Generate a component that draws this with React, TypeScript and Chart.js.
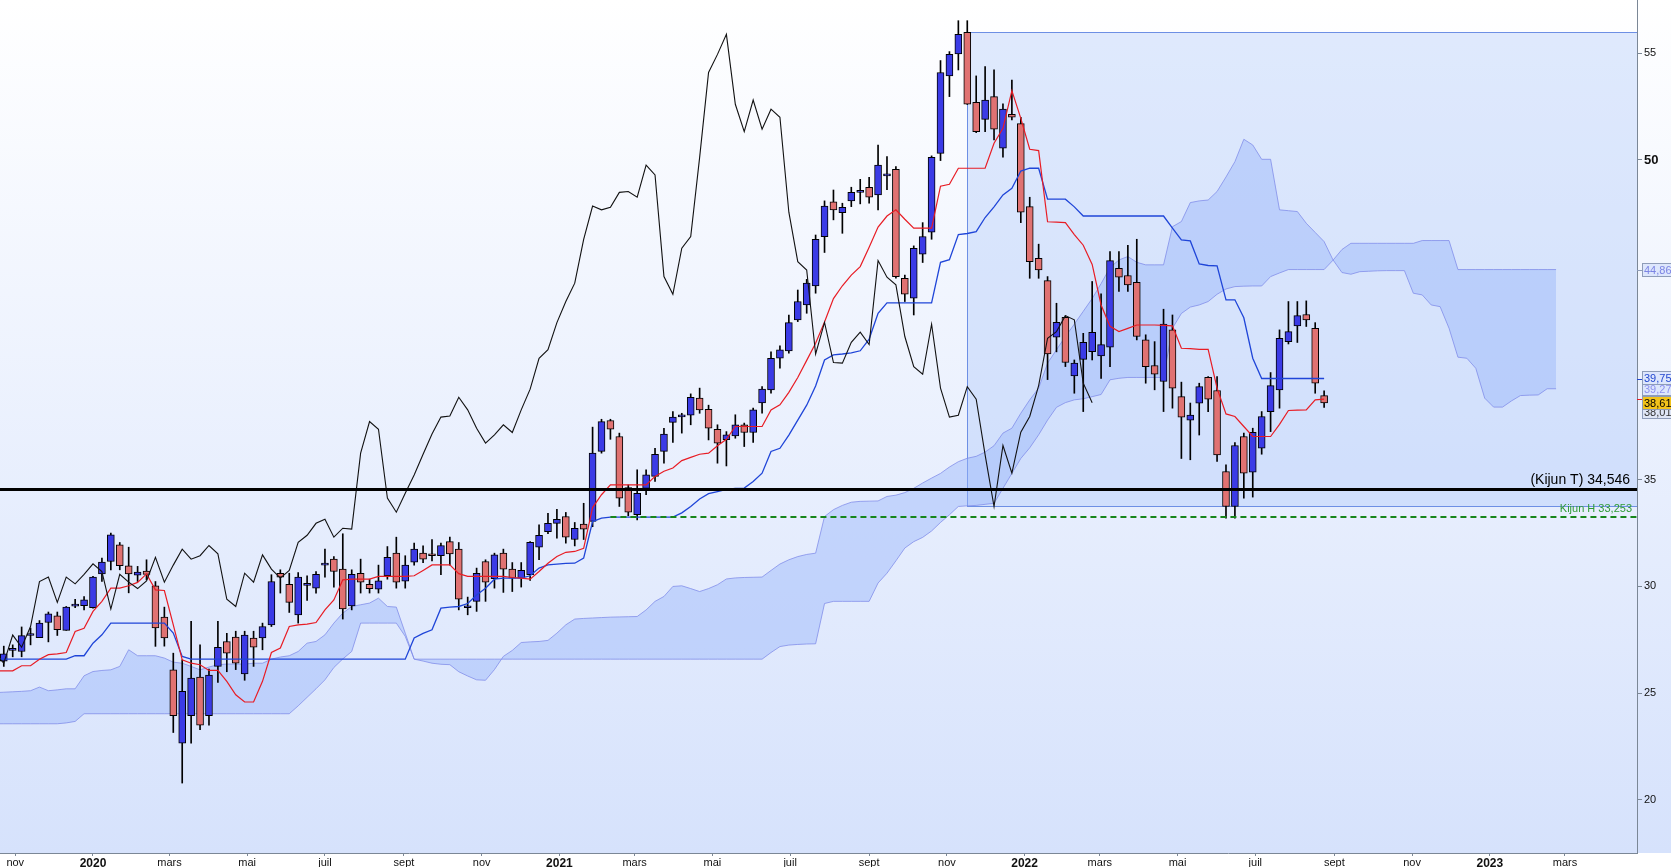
import React, { useEffect, useRef } from 'react';
import { Chart, registerables } from 'chart.js';

Chart.register(...registerables);

const W = 1671;
const H = 867;
const FONT = "'Liberation Sans', Arial, sans-serif";

// ---------- data ----------
const FIRST_WEEK = '2019-10-23';
const CHIKOU_SHIFT = 26;
const LINES_FIRST_INDEX = -1; // tenkan / kijun / cloud begin one week before the first candle

const opens = [
  26.5, 27.0, 26.95, 27.7, 27.6, 28.31, 28.62, 27.94, 29.08, 29.1,
  29.01, 30.59, 31.17, 31.95, 30.97, 30.53, 30.72, 30.03, 28.56, 26.09,
  22.65, 23.94, 25.75, 23.94, 26.25, 27.42, 27.62, 25.9, 27.58, 27.58,
  28.2, 30.62, 30.1, 28.67, 30.05, 29.92, 31.0, 31.28, 30.81, 29.09,
  30.62, 30.1, 29.87, 30.51, 31.56, 30.25, 31.14, 31.56, 31.53, 31.44,
  32.1, 31.75, 29.0, 29.3, 31.17, 30.36, 31.56, 30.81, 30.39, 30.55,
  31.84, 32.57, 32.96, 33.28, 32.2, 32.92, 33.05, 36.33, 37.78, 37.03,
  34.64, 33.36, 34.6, 35.16, 36.33, 37.69, 37.95, 38.03, 38.83, 38.31,
  37.37, 36.88, 37.06, 37.58, 37.22, 38.6, 39.22, 40.7, 41.05, 42.5,
  43.2, 44.09, 46.4, 48.03, 47.53, 48.08, 48.48, 48.72, 48.36, 49.25,
  49.56, 44.45, 43.52, 45.58, 46.61, 50.31, 53.94, 54.97, 55.98, 52.7,
  51.9, 52.97, 50.55, 52.14, 51.7, 47.81, 45.39, 44.34, 41.69, 42.62,
  39.87, 40.65, 41.01, 40.81, 41.22, 44.92, 44.58, 44.26, 41.56, 40.36,
  39.61, 42.03, 38.9, 37.8, 38.59, 39.81, 39.19, 35.39, 33.75, 37.03,
  35.36, 36.48, 38.2, 39.22, 41.48, 42.22, 42.75, 42.1, 38.95,
];
const highs = [
  27.2, 27.26, 28.1, 28.05, 28.4, 28.8, 28.8, 29.06, 29.4, 29.53,
  30.47, 31.33, 32.5, 32.06, 31.84, 30.94, 31.25, 30.23, 29.03, 26.87,
  26.56, 28.36, 27.26, 26.12, 28.36, 27.8, 27.9, 27.9, 27.9, 28.28,
  30.55, 30.78, 30.62, 30.65, 30.5, 30.7, 31.75, 31.4, 32.47, 30.78,
  31.28, 30.34, 31.0, 31.87, 32.31, 31.44, 32.03, 31.9, 32.2, 32.03,
  32.31, 32.06, 29.5, 30.86, 31.25, 31.56, 31.75, 31.12, 31.12, 32.1,
  32.89, 33.43, 33.62, 33.47, 33.0, 33.9, 37.47, 37.84, 37.84, 37.19,
  34.76, 35.47, 35.47, 36.48, 37.42, 38.2, 38.12, 39.03, 39.3, 38.5,
  37.58, 37.26, 38.05, 37.66, 38.36, 39.37, 41.0, 41.28, 42.73, 43.9,
  44.4, 46.48, 48.08, 48.59, 47.97, 48.72, 49.09, 49.19, 50.7, 50.16,
  49.69, 44.6, 45.97, 47.06, 50.19, 54.66, 55.08, 56.53, 56.53, 53.94,
  54.38, 54.22, 52.63, 53.75, 52.0, 48.25, 46.05, 44.53, 43.28, 42.69,
  40.62, 41.87, 44.3, 43.72, 45.7, 45.7, 46.0, 46.28, 41.8, 41.48,
  43.0, 42.73, 39.58, 38.6, 39.53, 39.84, 39.84, 35.7, 36.75, 37.19,
  37.42, 38.2, 40.03, 42.03, 43.36, 43.36, 43.39, 42.37, 39.17,
];
const lows = [
  26.25, 26.7, 26.7, 27.26, 27.6, 27.4, 27.7, 27.94, 29.0, 28.9,
  28.98, 30.23, 30.78, 30.78, 29.7, 30.23, 30.31, 27.19, 27.2, 23.15,
  20.78, 22.65, 23.28, 23.5, 25.5, 26.0, 26.1, 25.6, 26.25, 27.03,
  28.12, 29.69, 28.78, 28.28, 29.34, 29.69, 30.44, 29.97, 28.47, 28.9,
  29.69, 29.69, 29.69, 30.34, 29.92, 29.92, 31.0, 31.12, 31.2, 30.55,
  31.0, 28.9, 28.67, 28.83, 29.3, 29.92, 29.72, 29.76, 29.97, 30.28,
  31.25, 32.47, 32.26, 32.03, 31.9, 32.2, 32.8, 36.25, 36.9, 33.75,
  33.31, 33.12, 34.3, 34.92, 35.78, 36.75, 37.19, 37.58, 38.12, 36.87,
  35.78, 35.65, 36.95, 36.56, 36.75, 38.12, 39.06, 40.23, 40.94, 42.42,
  42.81, 43.75, 45.66, 47.19, 46.56, 47.81, 47.94, 47.97, 47.66, 48.6,
  44.45, 43.36, 42.73, 45.19, 46.28, 49.97, 52.97, 54.22, 52.6, 51.28,
  51.33, 50.94, 50.13, 51.88, 47.06, 44.45, 44.45, 39.7, 41.0, 40.31,
  39.06, 38.2, 40.62, 39.76, 40.31, 43.83, 43.83, 41.56, 39.53, 39.22,
  38.2, 38.36, 36.0, 35.94, 37.1, 38.2, 35.86, 33.2, 33.2, 34.14,
  34.19, 36.2, 37.26, 38.36, 41.37, 41.44, 42.19, 39.06, 38.39,
];
const closes = [
  26.84, 27.02, 27.69, 27.72, 28.28, 28.72, 27.97, 29.03, 29.12, 29.37,
  30.44, 31.14, 32.42, 30.97, 30.59, 30.67, 30.56, 28.05, 27.58, 23.94,
  25.08, 25.7, 23.5, 25.84, 27.15, 26.87, 26.4, 27.72, 27.15, 28.12,
  30.23, 30.44, 29.25, 30.44, 30.12, 30.57, 31.06, 30.7, 28.94, 30.57,
  30.2, 29.9, 30.26, 31.37, 30.2, 31.0, 31.75, 31.28, 31.44, 31.92,
  31.53, 29.4, 29.06, 30.62, 30.2, 31.48, 30.81, 30.39, 30.75, 32.07,
  32.4, 32.96, 33.15, 32.31, 32.73, 32.69, 36.25, 37.73, 37.37, 34.14,
  33.48, 34.37, 35.23, 36.2, 37.15, 37.94, 37.99, 38.87, 38.28, 37.42,
  36.72, 37.11, 37.58, 37.22, 38.28, 39.25, 40.7, 41.1, 42.37, 43.36,
  44.22, 46.28, 47.84, 47.66, 47.78, 48.48, 48.52, 48.25, 49.76, 49.3,
  44.53, 43.7, 45.86, 46.41, 50.12, 54.1, 54.95, 55.89, 52.61, 51.33,
  52.81, 51.44, 52.38, 52.0, 47.55, 45.23, 44.84, 40.9, 42.38, 40.5,
  40.47, 41.45, 41.92, 41.34, 45.28, 44.5, 44.14, 41.72, 40.31, 39.95,
  42.3, 39.3, 37.94, 38.03, 39.37, 38.78, 36.17, 33.75, 36.61, 35.31,
  37.23, 37.97, 39.42, 41.64, 41.95, 42.7, 42.5, 39.53, 38.61,
];
const tenkan = [
  26.04,
  26.04, 26.04, 26.28, 26.28, 26.59, 26.8, 26.84, 26.9, 27.89, 28.04,
  28.83, 29.3, 29.92, 29.92, 30.03, 30.19, 30.59, 29.84, 29.81, 28.2,
  26.56, 26.4, 26.33, 26.06, 26.06, 25.55, 24.92, 24.58, 24.58, 25.55,
  26.9, 27.11, 28.12, 28.2, 28.23, 28.31, 28.9, 29.37, 30.31, 30.34,
  30.34, 30.34, 30.47, 30.47, 30.47, 30.47, 30.5, 30.75, 31.01, 31.01,
  31.01, 30.6, 30.47, 30.47, 30.47, 30.47, 30.47, 30.42, 30.39, 30.34,
  30.7, 31.09, 31.4, 31.6, 31.64, 31.79, 33.7, 34.3, 34.76, 34.76,
  34.76, 34.76, 34.76, 35.16, 35.4, 35.55, 35.9, 36.05, 36.2, 36.25,
  36.6, 36.9, 37.5, 37.5, 37.5, 37.5, 38.28, 38.52, 39.1, 39.8,
  40.6, 41.4, 42.4, 43.5, 44.1, 44.6, 45.0, 45.9, 46.85, 47.37,
  47.66, 47.22, 46.8, 46.8, 46.8, 48.77, 48.86, 49.61, 49.61, 49.61,
  49.61, 50.78, 51.48, 53.25, 51.95, 50.5, 50.44, 47.1, 47.08, 47.06,
  46.5, 46.0, 45.1, 43.2, 42.2, 41.95, 42.1, 42.26, 42.26, 42.26,
  42.24, 42.22, 41.17, 41.15, 41.12, 41.12, 39.3, 38.09, 37.97, 37.5,
  37.03, 37.03, 37.03, 37.6, 38.25, 38.27, 38.28, 38.75, 38.78,
];
const kijun = [
  26.59,
  26.59, 26.59, 26.59, 26.59, 26.59, 26.59, 26.59, 26.59, 26.75, 26.75,
  27.34, 27.73, 28.28, 28.28, 28.28, 28.28, 28.28, 28.28, 28.28, 27.81,
  26.72, 26.59, 26.59, 26.59, 26.59, 26.59, 26.59, 26.59, 26.59, 26.59,
  26.59, 26.59, 26.59, 26.59, 26.59, 26.59, 26.59, 26.59, 26.59, 26.59,
  26.59, 26.59, 26.59, 26.59, 26.59, 26.59, 27.58, 27.8, 27.97, 28.98,
  29.03, 29.06, 29.2, 29.6, 29.92, 30.34, 30.39, 30.39, 30.39, 30.5,
  30.86, 31.01, 31.05, 31.08, 31.09, 31.33, 33.04, 33.2, 33.25, 33.25,
  33.25, 33.25, 33.25, 33.25, 33.25, 33.25, 33.45, 33.75, 34.1, 34.35,
  34.45, 34.55, 34.6, 34.61, 34.92, 35.31, 36.33, 36.48, 37.1, 37.8,
  38.5, 39.4, 40.62, 40.86, 40.9, 40.95, 41.05, 41.6, 42.81, 43.3,
  43.3, 43.3, 43.3, 43.3, 43.3, 45.2, 45.32, 46.5, 46.55, 46.64,
  47.3, 47.8, 48.36, 48.67, 49.48, 49.61, 49.61, 48.16, 48.16, 48.16,
  47.8, 47.37, 47.37, 47.37, 47.37, 47.37, 47.37, 47.37, 47.37, 47.37,
  47.37, 46.8, 46.25, 46.2, 45.12, 45.05, 45.03, 43.44, 43.44, 42.6,
  40.7, 39.75, 39.75, 39.75, 39.75, 39.75, 39.75, 39.75, 39.75,
];
const senkouA = [
  25.02,
  25.04, 25.06, 25.08, 25.11, 25.28, 25.11, 25.15, 25.2, 25.2, 25.81,
  26.01, 26.06, 26.09, 26.25, 27.03, 26.75, 26.75, 26.75, 26.64, 26.45,
  26.4, 26.25, 26.09, 26.22, 26.33, 26.36, 26.36, 26.36, 26.4, 26.4,
  26.59, 26.69, 26.75, 26.95, 27.34, 27.42, 27.73, 28.28, 28.75, 29.06,
  29.14, 29.22, 29.45, 29.06, 29.03, 27.81, 26.59, 26.5, 26.4, 26.35,
  26.33, 26.0, 25.8, 25.62, 25.6, 26.1, 26.72, 27.0, 27.37, 27.4,
  27.42, 27.47, 27.81, 28.2, 28.47, 28.5, 28.52, 28.54, 28.56, 28.57,
  28.58, 28.59, 28.9, 29.3, 29.53, 30.0, 30.03, 29.9, 29.76, 29.9,
  30.08, 30.35, 30.4, 30.42, 30.43, 30.44, 30.75, 31.05, 31.25, 31.4,
  31.5, 31.56, 33.28, 33.6, 33.8, 33.95, 33.99, 34.0, 34.01, 34.22,
  34.28, 34.4, 34.6, 34.85, 35.08, 35.3, 35.6, 35.85, 36.01, 36.1,
  36.3, 36.6, 37.19, 37.42, 38.12, 38.75, 39.3, 40.47, 41.1, 41.72,
  42.3, 42.9, 43.5, 44.2, 44.95, 45.31, 45.47, 45.2, 45.08, 45.08,
  45.08, 46.87, 47.11, 48.0, 48.08, 48.12, 48.52, 49.2, 49.92, 50.97,
  50.7, 50.03, 50.03, 47.66, 47.62, 47.58, 47.03, 46.6, 46.17, 45.31,
  44.72, 44.64, 44.76, 44.78, 44.8, 44.81, 44.81, 44.81, 43.75, 43.67,
  43.2, 43.12, 42.11, 40.75, 40.7, 40.23, 38.83, 38.41, 38.41, 38.7,
  38.95, 38.97, 38.98, 39.27, 39.27,
];
const senkouB = [
  23.56,
  23.56, 23.56, 23.56, 23.56, 23.56, 23.56, 23.56, 23.6, 23.67, 24.03,
  24.03, 24.03, 24.03, 24.03, 24.03, 24.03, 24.03, 24.03, 24.03, 24.03,
  24.03, 24.03, 24.03, 24.03, 24.03, 24.03, 24.03, 24.03, 24.03, 24.03,
  24.03, 24.03, 24.03, 24.4, 24.8, 25.2, 25.62, 26.2, 26.6, 26.95,
  28.28, 28.28, 28.28, 28.28, 28.28, 27.66, 26.59, 26.59, 26.59, 26.59,
  26.59, 26.59, 26.59, 26.59, 26.59, 26.59, 26.59, 26.59, 26.59, 26.59,
  26.59, 26.59, 26.59, 26.59, 26.59, 26.59, 26.59, 26.59, 26.59, 26.59,
  26.59, 26.59, 26.59, 26.59, 26.59, 26.59, 26.59, 26.59, 26.59, 26.59,
  26.59, 26.59, 26.59, 26.59, 26.59, 26.59, 26.9, 27.18, 27.25, 27.28,
  27.3, 27.31, 29.2, 29.3, 29.3, 29.3, 29.3, 29.3, 30.16, 30.62,
  31.2, 31.8, 32.1, 32.3, 32.6, 33.0, 33.36, 33.75, 33.78, 33.8,
  33.85, 33.9, 34.6, 35.3, 36.0, 36.5, 37.11, 37.8, 38.4, 38.62,
  38.75, 38.8, 38.9, 39.0, 39.69, 39.76, 39.8, 39.8, 39.8, 39.8,
  39.8, 42.11, 42.8, 43.1, 43.2, 43.36, 43.7, 43.95, 44.06, 44.08,
  44.09, 44.09, 44.53, 44.7, 44.86, 44.86, 44.86, 44.86, 44.86, 45.3,
  45.8, 46.09, 46.09, 46.09, 46.09, 46.09, 46.09, 46.09, 46.09, 46.22,
  46.22, 46.22, 46.22, 44.86, 44.86, 44.86, 44.86, 44.86, 44.86, 44.86,
  44.86, 44.86, 44.86, 44.86, 44.86,
];

const KIJUN_T = 34.546;
const KIJUN_H = 33.253;
const KIJUN_H_START = 68; // candle index where the dashed level starts
const ZONE_START = 108; // candle index where the shaded zone starts
const ZONE_TOP = 55.98;
const ZONE_BOTTOM = 33.78;

const axisBoxValues = [44.86, 38.01, 39.27, 39.75, 38.61];
const priceTicks = [20, 25, 30, 35, 50, 55];
const tickDates = [
  '2019-11-01', '2020-01-01', '2020-03-01', '2020-05-01', '2020-07-01', '2020-09-01', '2020-11-01',
  '2021-01-01', '2021-03-01', '2021-05-01', '2021-07-01', '2021-09-01', '2021-11-01',
  '2022-01-01', '2022-03-01', '2022-05-01', '2022-07-01', '2022-09-01', '2022-11-01',
  '2023-01-01', '2023-03-01',
];
const tickLabels = [
  'nov', '2020', 'mars', 'mai', 'juil', 'sept', 'nov',
  '2021', 'mars', 'mai', 'juil', 'sept', 'nov',
  '2022', 'mars', 'mai', 'juil', 'sept', 'nov',
  '2023', 'mars',
];

// ---------- helpers ----------
const DAY0 = Date.UTC(2020, 0, 1);
const dayOf = (s: string) => (Date.parse(s + 'T00:00:00Z') - DAY0) / 86400000;
const weekDay = (i: number) => dayOf(FIRST_WEEK) + 7 * i;
const fmt = (v: number, d: number) => v.toFixed(d).replace('.', ',');
const X_MIN = -72.97;
const X_MAX = 1211.5;

const UP = '#3b3be6';
const DOWN = '#e07272';
const CLOUD_FILL = 'rgba(150,180,250,0.44)';
const CLOUD_EDGE = 'rgba(125,138,232,0.75)';

const boxStyles = [
  { bg: '#dde6fc', fg: '#7c84e4', nudge: 0 },
  { bg: '#dfe6f6', fg: '#333333', nudge: -4 },
  { bg: '#dde6fc', fg: '#8c90ee', nudge: 0 },
  { bg: '#dde6fc', fg: '#2448d0', nudge: -1 },
  { bg: '#f2c31a', fg: '#000000', nudge: 0 },
];

const backdrop = {
  id: 'backdrop',
  beforeDraw(chart: any) {
    const { ctx, chartArea, width, height } = chart;
    const xs = chart.scales.x;
    const ys = chart.scales.y;
    ctx.save();
    ctx.fillStyle = '#ffffff';
    ctx.fillRect(0, 0, width, height);
    const g = ctx.createLinearGradient(0, 0, 0, chartArea.bottom);
    g.addColorStop(0, '#ffffff');
    g.addColorStop(1, '#d6e2fc');
    ctx.fillStyle = g;
    ctx.fillRect(0, 0, width, chartArea.bottom);
    const x0 = Math.round(xs.getPixelForValue(weekDay(ZONE_START)));
    const y0 = Math.round(ys.getPixelForValue(ZONE_TOP));
    const y1 = Math.round(ys.getPixelForValue(ZONE_BOTTOM));
    ctx.fillStyle = 'rgba(165,192,250,0.34)';
    ctx.fillRect(x0, y0, chartArea.right - x0, y1 - y0);
    ctx.strokeStyle = '#6d8fe4';
    ctx.lineWidth = 1;
    ctx.strokeRect(x0 + 0.5, y0 + 0.5, chartArea.right - x0, y1 - y0);
    ctx.restore();
  },
};

const levelLabels = {
  id: 'levelLabels',
  afterDatasetsDraw(chart: any) {
    const { ctx, chartArea } = chart;
    const ys = chart.scales.y;
    ctx.save();
    ctx.textAlign = 'right';
    ctx.textBaseline = 'alphabetic';
    ctx.font = `14px ${FONT}`;
    ctx.fillStyle = '#000';
    ctx.fillText(`(Kijun T) ${fmt(KIJUN_T, 3)}`, chartArea.right - 7, ys.getPixelForValue(KIJUN_T) - 5);
    ctx.font = `11px ${FONT}`;
    ctx.fillStyle = '#2f9a35';
    ctx.fillText(`Kijun H ${fmt(KIJUN_H, 3)}`, chartArea.right - 5, ys.getPixelForValue(KIJUN_H) - 5);
    ctx.restore();
  },
};

const axisBoxes = {
  id: 'axisBoxes',
  afterDraw(chart: any) {
    const { ctx, chartArea } = chart;
    const ys = chart.scales.y;
    const x = chartArea.right + 5;
    ctx.save();
    const marks: [number, string][] = [
      [axisBoxValues[0], '#8e9cb8'],
      [axisBoxValues[3], '#2448d0'],
      [tenkan[tenkan.length - 1], '#e81c24'],
    ];
    marks.forEach(([v, c]) => {
      const y = Math.round(ys.getPixelForValue(v)) + 0.5;
      ctx.strokeStyle = c;
      ctx.lineWidth = 1;
      ctx.beginPath();
      ctx.moveTo(chartArea.right, y);
      ctx.lineTo(chartArea.right + 5, y);
      ctx.stroke();
    });
    axisBoxValues.forEach((v, i) => {
      const st = boxStyles[i];
      const yc = Math.round(ys.getPixelForValue(v)) + st.nudge;
      ctx.fillStyle = st.bg;
      ctx.fillRect(x, yc - 7, 44, 14);
      ctx.strokeStyle = '#8e9cb8';
      ctx.lineWidth = 1;
      ctx.strokeRect(x + 0.5, yc - 6.5, 44, 13);
      ctx.fillStyle = st.fg;
      ctx.font = `11px ${FONT}`;
      ctx.textAlign = 'left';
      ctx.textBaseline = 'middle';
      ctx.fillText(fmt(v, 2), x + 2, yc + 0.5);
    });
    ctx.restore();
  },
};

export default function App() {
  const ref = useRef<HTMLCanvasElement>(null);

  useEffect(() => {
    const canvas = ref.current as HTMLCanvasElement;
    const tickDays = tickDates.map(dayOf);
    const series = (arr: number[]) => arr.map((v, i) => ({ x: weekDay(i + LINES_FIRST_INDEX), y: v }));
    const line = (data: any[], color: string, width: number, order: number, extra: any = {}) => ({
      type: 'line',
      data,
      borderColor: color,
      borderWidth: width,
      pointRadius: 0,
      tension: 0,
      fill: false,
      order,
      ...extra,
    });

    const chart = new Chart(canvas, {
      type: 'line',
      data: {
        datasets: [
          line(series(senkouA), CLOUD_EDGE, 1, 10, { fill: '+1', backgroundColor: CLOUD_FILL }),
          line(series(senkouB), CLOUD_EDGE, 1, 9),
          {
            type: 'bar',
            data: highs.map((h, i) => ({ x: weekDay(i), y: [lows[i], h] })),
            backgroundColor: '#000',
            borderWidth: 0,
            barThickness: 1,
            grouped: false,
            order: 8,
          },
          {
            type: 'bar',
            data: opens.map((o, i) => ({ x: weekDay(i), y: [o, closes[i]] })),
            backgroundColor: (c: any) => (closes[c.dataIndex] >= opens[c.dataIndex] ? UP : DOWN),
            borderColor: '#000',
            borderWidth: 1,
            borderSkipped: false,
            barThickness: 7,
            minBarLength: 2,
            grouped: false,
            order: 7,
          },
          line(series(kijun), '#1f45d8', 1.3, 6),
          line(series(tenkan), '#e81c24', 1.2, 5),
          line(closes.map((v, i) => ({ x: weekDay(i - CHIKOU_SHIFT), y: v })), '#111111', 1.1, 4),
          line([{ x: X_MIN, y: KIJUN_T }, { x: X_MAX, y: KIJUN_T }], '#000000', 3.2, 3),
          line([{ x: weekDay(KIJUN_H_START), y: KIJUN_H }, { x: X_MAX, y: KIJUN_H }], '#17861b', 2, 2, {
            borderDash: [6, 4],
          }),
        ] as any,
      },
      options: {
        animation: false,
        responsive: false,
        events: [],
        layout: { padding: 0 },
        plugins: {
          legend: { display: false },
          tooltip: { enabled: false },
        },
        scales: {
          x: {
            type: 'linear',
            min: X_MIN,
            max: X_MAX,
            offset: false,
            afterBuildTicks: (scale: any) => {
              scale.ticks = tickDays.map((value) => ({ value }));
            },
            afterFit: (scale: any) => {
              scale.height = 14;
              scale.paddingLeft = 0;
              scale.paddingRight = 0;
            },
            grid: {
              display: true,
              drawOnChartArea: false,
              drawTicks: true,
              tickLength: 3,
              color: '#7b8796',
              offset: false,
            },
            border: { display: true, color: '#7b8796', width: 1 },
            ticks: {
              autoSkip: false,
              maxRotation: 0,
              minRotation: 0,
              padding: 0,
              color: '#111',
              callback: (_v: any, i: number) => tickLabels[i],
              font: (c: any) =>
                /^\d{4}$/.test(tickLabels[c.index] || '')
                  ? { family: FONT, size: 12, weight: 'bold' }
                  : { family: FONT, size: 11 },
            },
          },
          y: {
            type: 'linear',
            position: 'right',
            min: 17.5,
            max: 57.5,
            afterBuildTicks: (scale: any) => {
              scale.ticks = priceTicks.map((value) => ({ value }));
            },
            afterFit: (scale: any) => {
              scale.width = 34;
              scale.paddingTop = 0;
              scale.paddingBottom = 0;
            },
            grid: {
              display: true,
              drawOnChartArea: false,
              drawTicks: true,
              tickLength: 5,
              color: '#7b8796',
            },
            border: { display: true, color: '#7b8796', width: 1 },
            ticks: {
              padding: 2,
              color: '#111',
              callback: (v: any) => String(v),
              font: (c: any) =>
                c.tick && c.tick.value === 50
                  ? { family: FONT, size: 13, weight: 'bold' }
                  : { family: FONT, size: 11 },
            },
          },
        },
      } as any,
      plugins: [backdrop, levelLabels, axisBoxes],
    });

    return () => chart.destroy();
  }, []);

  return (
    <div style={{ position: 'fixed', left: 0, top: 0, width: W, height: H, background: '#fff' }}>
      <canvas ref={ref} width={W} height={H} style={{ display: 'block', width: W, height: H }} />
    </div>
  );
}
